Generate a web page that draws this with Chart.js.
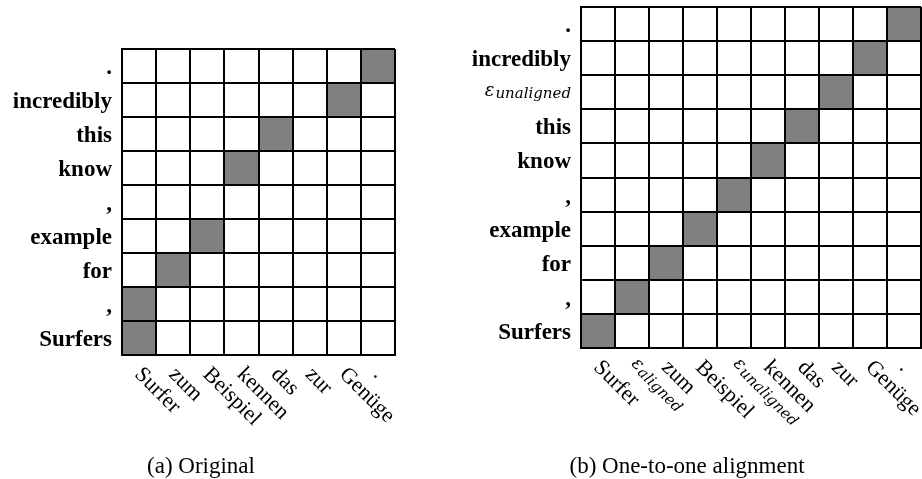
<!DOCTYPE html>
<html>
<head>
<meta charset="utf-8">
<script src="https://cdn.jsdelivr.net/npm/chart.js@4.4.0/dist/chart.umd.min.js"></script>
<style>
  html, body { margin: 0; padding: 0; background: #fff; }
  body { width: 922px; height: 479px; position: relative; overflow: hidden; }
  .panel { position: absolute; top: 0; width: 461px; height: 479px; }
</style>
</head>
<body>
<div class="panel" style="left:0"><canvas id="chart-a"></canvas></div>
<div class="panel" style="left:461px"><canvas id="chart-b"></canvas></div>
<script>
// German words along x, English words along y (bottom to top)
const srcOriginal = ["Surfer", "zum", "Beispiel", "kennen", "das", "zur", "Genüge", "."];
const tgtOriginal = ["Surfers", ",", "for", "example", ",", "know", "this", "incredibly", "."];
// aligned cells as [column, row]
const linksOriginal = [[0, 0], [0, 1], [1, 2], [2, 3], [3, 5], [4, 6], [6, 7], [7, 8]];

const srcOneToOne = ["Surfer", "ε_aligned", "zum", "Beispiel", "ε_unaligned", "kennen", "das", "zur", "Genüge", "."];
const tgtOneToOne = ["Surfers", ",", "for", "example", ",", "know", "this", "ε_unaligned", "incredibly", "."];
const linksOneToOne = [[0, 0], [1, 1], [2, 2], [3, 3], [4, 4], [5, 5], [6, 6], [7, 7], [8, 8], [9, 9]];

const SERIF = '"Liberation Serif", "Times New Roman", serif';
const MATH = '"DejaVu Serif", serif';
const GRAY = "#808080";

function buildCells(src, tgt, links) {
  const on = new Set(links.map(([c, r]) => c + ":" + r));
  const cells = [];
  src.forEach((word, c) => {
    tgt.forEach((_, r) => {
      // x given as the label so the category scale finds the right column
      cells.push({ x: word, y: [r, r + 1], on: on.has(c + ":" + r) });
    });
  });
  return cells;
}

// draws a word with its baseline at y; epsilon words get a subscript
function drawWord(ctx, word, x, y, font, align) {
  ctx.fillStyle = "#000";
  if (word.startsWith("ε_")) {
    const sub = word.slice(2);
    ctx.font = "italic 18px " + MATH;
    const wEps = ctx.measureText("ε").width;
    ctx.font = "italic 15px " + MATH;
    const wSub = ctx.measureText(sub).width;
    const x0 = align === "right" ? x - wEps - wSub - 1 : x;
    ctx.textAlign = "left";
    ctx.font = "italic 18px " + MATH;
    ctx.fillText("ε", x0, y);
    ctx.font = "italic 15px " + MATH;
    ctx.fillText(sub, x0 + wEps + 1, y + 2);
  } else {
    ctx.font = font;
    ctx.textAlign = align;
    ctx.fillText(word, x, y);
  }
}

function labelPlugin(src, tgt, caption, captionX) {
  return {
    id: "alignLabels",
    afterDraw(chart) {
      const { ctx, chartArea, scales } = chart;
      ctx.save();
      ctx.textBaseline = "alphabetic";

      // target words, bold, left of the grid
      tgt.forEach((word, r) => {
        const yc = scales.y.getPixelForValue(r + 0.5);
        const isEps = word.startsWith("ε_");
        drawWord(ctx, word, chartArea.left - 10, yc + (isEps ? 4 : 8), "bold 23px " + SERIF, "right");
      });

      // source words, rotated 45 degrees below the grid
      src.forEach((word, c) => {
        const xc = scales.x.getPixelForValue(c);
        const isEps = word.startsWith("ε_");
        ctx.save();
        ctx.translate(xc + 5, chartArea.bottom + 10);
        ctx.rotate(Math.PI / 4);
        drawWord(ctx, word, 0, isEps ? 9 : 14.5, "22px " + SERIF, "left");
        ctx.restore();
      });

      ctx.font = "23px " + SERIF;
      ctx.textAlign = "center";
      ctx.fillStyle = "#000";
      ctx.fillText(caption, captionX, 473);
      ctx.restore();
    },
  };
}

function makeChart(id, src, tgt, links, padding, caption, captionX) {
  const cells = buildCells(src, tgt, links);
  return new Chart(document.getElementById(id), {
    type: "bar",
    data: {
      labels: src,
      datasets: [
        {
          data: cells,
          backgroundColor: (ctx) => (ctx.raw && ctx.raw.on ? GRAY : "#ffffff"),
          borderWidth: 0,
          barPercentage: 1,
          categoryPercentage: 1,
        },
      ],
    },
    options: {
      responsive: true,
      maintainAspectRatio: false,
      animation: false,
      events: [],
      layout: { padding: padding },
      plugins: {
        legend: { display: false },
        tooltip: { enabled: false },
      },
      scales: {
        x: {
          type: "category",
          offset: true,
          grid: { offset: true, color: "#000", lineWidth: 2, drawTicks: false, z: 1 },
          border: { display: true, color: "#000", width: 2, z: 1 },
          ticks: { display: false },
        },
        y: {
          type: "linear",
          min: 0,
          max: tgt.length,
          grid: { color: "#000", lineWidth: 2, drawTicks: false, z: 1 },
          border: { display: true, color: "#000", width: 2, z: 1 },
          ticks: { display: false, stepSize: 1 },
        },
      },
    },
    plugins: [labelPlugin(src, tgt, caption, captionX)],
  });
}

makeChart("chart-a", srcOriginal, tgtOriginal, linksOriginal,
  { left: 122, right: 66, top: 49, bottom: 124 }, "(a) Original", 201);
makeChart("chart-b", srcOneToOne, tgtOneToOne, linksOneToOne,
  { left: 120, right: 1, top: 7, bottom: 131 }, "(b) One-to-one alignment", 226);
</script>
</body>
</html>
